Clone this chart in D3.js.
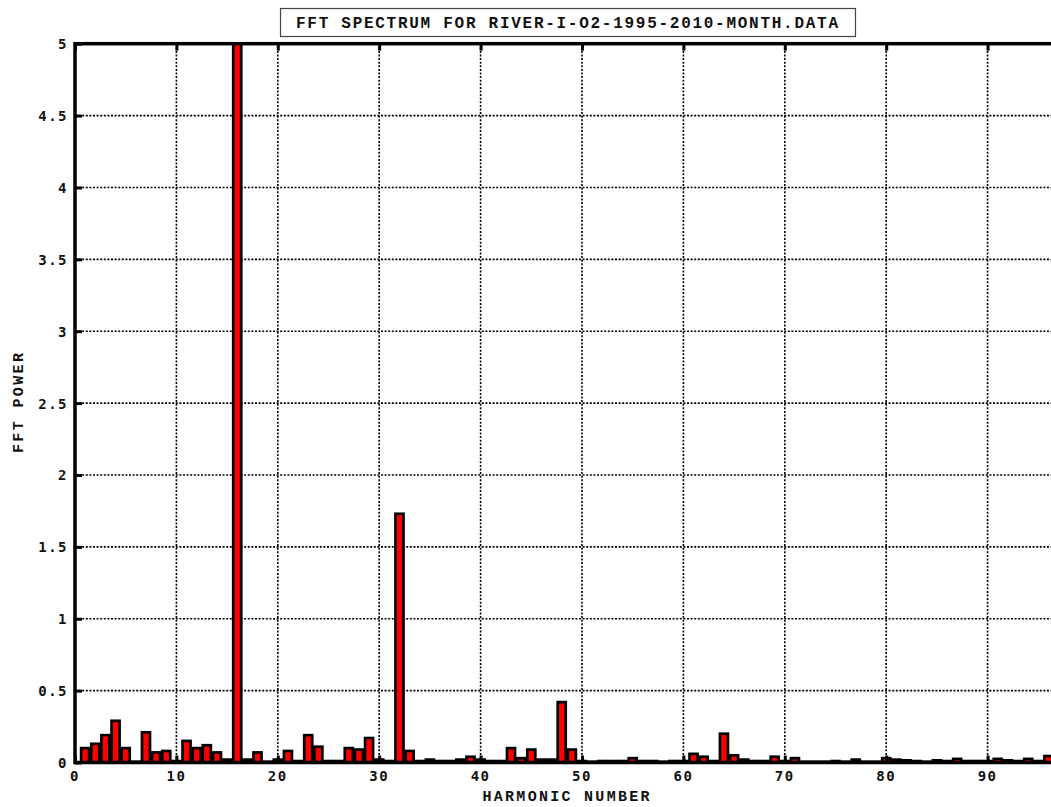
<!DOCTYPE html>
<html>
<head>
<meta charset="utf-8">
<script src="https://cdn.jsdelivr.net/npm/d3@7"></script>
<style>
  html, body { margin: 0; padding: 0; background: #fff; }
  svg { display: block; }
</style>
</head>
<body>
<svg id="chart" width="1051" height="807"></svg>
<script>
// FFT power per harmonic (harmonics 1..96)
const harmonics = d3.range(1, 97);
const power = [
  0.10, 0.13, 0.19, 0.29, 0.10, 0.005, 0.21, 0.07, 0.08, 0.01,
  0.15, 0.10, 0.12, 0.07, 0.02, 5.00, 0.02, 0.07, 0.005, 0.02,
  0.08, 0.01, 0.19, 0.11, 0.01, 0.01, 0.10, 0.09, 0.17, 0.02,
  0.01, 1.73, 0.08, 0.01, 0.02, 0.01, 0.01, 0.02, 0.04, 0.02,
  0.01, 0.01, 0.10, 0.03, 0.09, 0.02, 0.02, 0.42, 0.09, 0.01,
  0.005, 0.01, 0.01, 0.01, 0.03, 0.01, 0.01, 0.005, 0.01, 0.01,
  0.06, 0.04, 0.01, 0.20, 0.05, 0.02, 0.01, 0.01, 0.04, 0.01,
  0.03, 0.005, 0.005, 0.005, 0.01, 0.005, 0.02, 0.005, 0.005, 0.03,
  0.02, 0.015, 0.01, 0.005, 0.015, 0.01, 0.025, 0.01, 0.01, 0.01,
  0.025, 0.015, 0.01, 0.025, 0.01, 0.045
];
const xTicks = d3.range(0, 101, 10);
const xTickLabels = d3.range(0, 91, 10);
const yTicks = d3.range(0, 5.01, 0.5);
const titleText = "FFT SPECTRUM FOR RIVER-I-O2-1995-2010-MONTH.DATA";
const xLabel = "HARMONIC NUMBER";
const yLabel = "FFT POWER";

const svg = d3.select("#chart");
const plot = { left: 75, top: 43.7, right: 1089, bottom: 762.5 };

const x = d3.scaleLinear().domain([0, 100]).range([plot.left, plot.right]);
const y = d3.scaleLinear().domain([0, 5]).range([plot.bottom, plot.top]);

svg.append("defs").append("clipPath").attr("id", "plotClip")
  .append("rect")
  .attr("x", plot.left).attr("y", plot.top)
  .attr("width", plot.right - plot.left).attr("height", plot.bottom - plot.top);

// dotted grid
const grid = svg.append("g").attr("stroke", "#000").attr("stroke-width", 1.6)
  .attr("stroke-dasharray", "2,1.6");
grid.selectAll("line.v").data(xTicks.filter(d => d > 0 && d < 100)).join("line")
  .attr("x1", d => x(d)).attr("x2", d => x(d))
  .attr("y1", plot.top).attr("y2", plot.bottom);
grid.selectAll("line.h").data(yTicks.filter(d => d > 0 && d < 5)).join("line")
  .attr("x1", plot.left).attr("x2", plot.right)
  .attr("y1", d => y(d)).attr("y2", d => y(d));

// bars
const barW = (x(1) - x(0)) * 0.79;
svg.append("g").attr("clip-path", "url(#plotClip)")
  .selectAll("rect").data(harmonics).join("rect")
  .attr("x", (d) => x(d) - barW / 2)
  .attr("width", barW)
  .attr("y", (d, i) => y(power[i]))
  .attr("height", (d, i) => y(0) - y(power[i]))
  .attr("fill", "#ff0000")
  .attr("stroke", "#000")
  .attr("stroke-width", 2.7);

// inner ticks on all sides
const tickLen = 7;
const axisG = svg.append("g");
axisG.append("g")
  .attr("transform", `translate(0,${plot.bottom})`)
  .call(d3.axisBottom(x).tickValues(xTicks).tickSize(-tickLen).tickFormat(""))
  .call(g => g.select(".domain").remove())
  .call(g => g.selectAll("line").attr("stroke-width", 3));
axisG.append("g")
  .attr("transform", `translate(0,${plot.top})`)
  .call(d3.axisTop(x).tickValues(xTicks).tickSize(-tickLen).tickFormat(""))
  .call(g => g.select(".domain").remove())
  .call(g => g.selectAll("line").attr("stroke-width", 3));
axisG.append("g")
  .attr("transform", `translate(${plot.left},0)`)
  .call(d3.axisLeft(y).tickValues(yTicks).tickSize(-tickLen).tickFormat(""))
  .call(g => g.select(".domain").remove())
  .call(g => g.selectAll("line").attr("stroke-width", 3));

// frame
svg.append("rect")
  .attr("x", plot.left).attr("y", plot.top)
  .attr("width", plot.right - plot.left).attr("height", plot.bottom - plot.top)
  .attr("fill", "none").attr("stroke", "#000").attr("stroke-width", 3.5);

// tick labels
const tickFont = "'DejaVu Sans Mono', monospace";
svg.append("g").selectAll("text").data(xTickLabels).join("text")
  .attr("x", d => x(d)).attr("y", 781)
  .attr("text-anchor", "middle")
  .attr("font-family", tickFont).attr("font-weight", "bold")
  .attr("font-size", 14).attr("letter-spacing", 1.5)
  .attr("fill", "#111")
  .text(d => d);
svg.append("g").selectAll("text").data(yTicks).join("text")
  .attr("x", 68).attr("y", d => y(d) + 5.5)
  .attr("text-anchor", "end")
  .attr("font-family", tickFont).attr("font-weight", "bold")
  .attr("font-size", 14).attr("letter-spacing", 1.5)
  .attr("fill", "#111")
  .text(d => d3.format("~g")(d));

// title box
const labelFont = "'Courier New', 'Liberation Mono', monospace";
svg.append("rect")
  .attr("x", 280.5).attr("y", 8.5).attr("width", 575).attr("height", 28)
  .attr("fill", "#fff").attr("stroke", "#444").attr("stroke-width", 1.2);
svg.append("text")
  .attr("x", 567).attr("y", 28)
  .attr("text-anchor", "middle")
  .attr("font-family", labelFont).attr("font-weight", "bold").attr("font-size", 16)
  .attr("textLength", 542).attr("lengthAdjust", "spacing")
  .attr("fill", "#111")
  .text(titleText);

// axis titles
svg.append("text")
  .attr("x", 566).attr("y", 801)
  .attr("text-anchor", "middle")
  .attr("font-family", labelFont).attr("font-weight", "bold").attr("font-size", 15)
  .attr("textLength", 167).attr("lengthAdjust", "spacing")
  .attr("fill", "#111")
  .text(xLabel);
svg.append("text")
  .attr("transform", "translate(23,403) rotate(-90)")
  .attr("text-anchor", "middle")
  .attr("font-family", labelFont).attr("font-weight", "bold").attr("font-size", 15)
  .attr("textLength", 100).attr("lengthAdjust", "spacing")
  .attr("fill", "#111")
  .text(yLabel);
</script>
</body>
</html>
